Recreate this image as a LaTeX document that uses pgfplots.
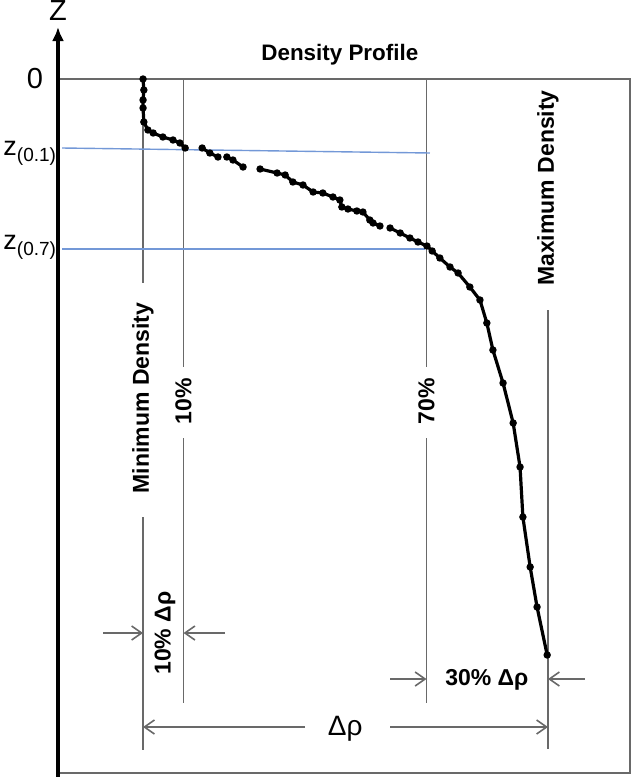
\documentclass[border=0pt]{standalone}
\usepackage{pgfplots}
\pgfplotsset{compat=1.18}
\usetikzlibrary{arrows.meta}
\usepackage{fontspec}
\setmainfont{Liberation Sans}

\definecolor{guide}{RGB}{105,105,105}
\definecolor{zline}{RGB}{115,152,215}

\begin{document}
\begin{tikzpicture}
\useasboundingbox (-29pt,-2pt) rectangle (287.5pt,386.5pt);
\begin{axis}[
    scale only axis,
    width=286pt, height=347pt,
    xmin=-0.21, xmax=1.2025,
    ymin=0, ymax=694,
    y dir=reverse,
    ticks=none,
    axis line style={draw=guide, line width=0.8pt},
    clip=false,
    unbounded coords=jump,
]
% guide lines
\tikzset{gl/.style={draw=guide, line width=0.8pt},
         ar/.style={draw=guide, line width=0.8pt, -{Straight Barb[length=5pt,width=7pt]}},
         lb/.style={font=\fontsize{11.5}{13}\selectfont\bfseries}}
\draw[gl] (axis cs:0,0) -- (axis cs:0,204);
\draw[gl] (axis cs:0,438) -- (axis cs:0,671);
\draw[gl] (axis cs:0.1,0) -- (axis cs:0.1,288);
\draw[gl] (axis cs:0.1,359) -- (axis cs:0.1,624);
\draw[gl] (axis cs:0.7,0) -- (axis cs:0.7,288);
\draw[gl] (axis cs:0.7,359) -- (axis cs:0.7,624);
\draw[gl] (axis cs:1,231) -- (axis cs:1,670);
\node[lb, rotate=90] at (axis cs:0,319) {Minimum Density};
\node[lb, rotate=90] at (axis cs:0.1,322) {10\%};
\node[lb, rotate=90] at (axis cs:0.7,322) {70\%};
\node[lb, rotate=90] at (axis cs:1,109) {Maximum Density};
% blue depth lines
\draw[zline, line width=0.7pt] (axis cs:-0.2,69) -- (axis cs:0.7086,74);
\draw[zline, line width=0.7pt] (axis cs:-0.2,170) -- (axis cs:0.6975,170);
% dimension arrows
\draw[ar] (axis cs:-0.0988,554) -- (axis cs:0,554);
\draw[ar] (axis cs:0.2025,554) -- (axis cs:0.1,554);
\node[lb, rotate=90] at (axis cs:0.054,554) {10\% Δρ};
\draw[ar] (axis cs:0.61,600) -- (axis cs:0.7,600);
\draw[ar] (axis cs:1.091,600) -- (axis cs:1,600);
\node[lb] at (axis cs:0.849,601) {30\% Δρ};
\draw[ar] (axis cs:0.4,648) -- (axis cs:0,648);
\draw[ar] (axis cs:0.61,648) -- (axis cs:1,648);
\node[font=\fontsize{14}{16}\selectfont] at (axis cs:0.499,650) {Δρ};
% density profile
\addplot[black, line width=1.6pt, mark=*, mark size=1pt] table {
x y
0.000 0
0.002 11
0.000 21
0.000 29
0.002 43
0.012 51
0.025 54
0.049 58
0.074 61
0.091 64
0.104 69
nan nan
0.146 69
0.165 74
0.185 78
nan nan
0.207 78
0.222 81
0.247 88
nan nan
0.289 90
0.331 94
0.351 96
0.370 103
0.395 106
0.420 113
0.444 114
0.469 118
0.486 121
0.491 128
0.506 130
0.528 132
0.543 133
0.560 141
0.568 144
0.585 147
nan nan
0.610 149
0.635 154
0.659 159
0.679 163
0.701 167
0.714 172
0.733 179
0.758 188
0.778 194
0.807 208
0.832 221
0.849 244
0.864 271
0.889 304
0.914 344
0.931 388
0.938 438
0.956 488
0.973 528
0.998 576
};
% z axis and labels
\draw[black, line width=1.6pt, -{Latex[length=7pt,width=6pt]}] (axis cs:-0.21,698) -- (axis cs:-0.21,-52);
\node[font=\fontsize{14.5}{16}\selectfont] at (axis cs:-0.21,-68) {Z};
\node[font=\fontsize{14.5}{16}\selectfont] at (axis cs:-0.267,0) {0};
\node[anchor=base west, inner sep=0pt, font=\fontsize{13.5}{16}\selectfont] at (axis cs:-0.3457,76) {z\raisebox{-0.45ex}{\fontsize{9.5}{11}\selectfont(0.1)}};
\node[anchor=base west, inner sep=0pt, font=\fontsize{13.5}{16}\selectfont] at (axis cs:-0.3457,170) {z\raisebox{-0.45ex}{\fontsize{9.5}{11}\selectfont(0.7)}};
\node[font=\fontsize{11.2}{13}\selectfont\bfseries] at (axis cs:0.486,-24) {Density Profile};
\end{axis}
\end{tikzpicture}
\end{document}
